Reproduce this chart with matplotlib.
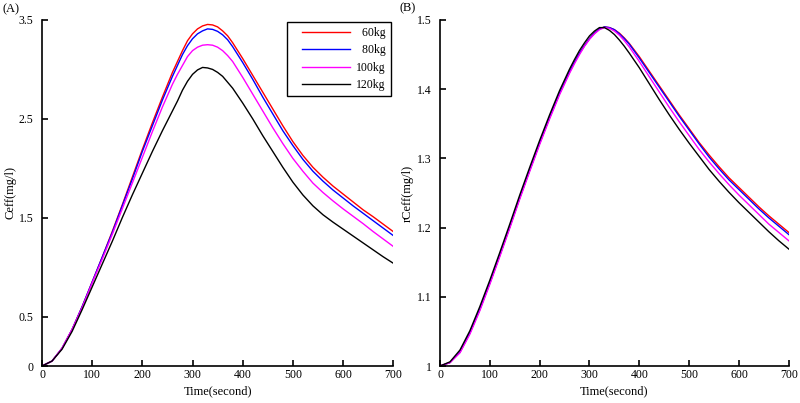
import matplotlib
matplotlib.use("Agg")
import matplotlib.pyplot as plt
from matplotlib.lines import Line2D
from matplotlib.legend_handler import HandlerLine2D

plt.rcParams['font.family'] = ['Liberation Serif', 'DejaVu Serif']
plt.rcParams['font.size'] = 8.5

# time axis (s), denser around the peak
time = [0, 20, 40, 60, 80, 100, 120, 140, 160, 180, 200, 220, 240, 260, 270, 280, 290,
        300, 310, 320, 330, 340, 350, 360, 370, 380, 400, 420, 440, 460, 480, 500, 520,
        540, 560, 580, 600, 620, 640, 660, 680, 700]

weights = ['60kg', '80kg', '100kg', '120kg']
colors = ['#ff0000', '#0000ff', '#ff00ff', '#000000']

# (A) Ceff (mg/l)
ceff_60 = [0, 0.05, 0.18, 0.37, 0.60, 0.85, 1.10, 1.36, 1.63, 1.91, 2.19, 2.46, 2.72, 2.97,
           3.08, 3.19, 3.29, 3.36, 3.41, 3.44, 3.455, 3.45, 3.43, 3.39, 3.34, 3.27, 3.11,
           2.94, 2.77, 2.60, 2.43, 2.27, 2.13, 2.01, 1.91, 1.82, 1.74, 1.66, 1.58, 1.51,
           1.435, 1.36]
ceff_80 = [0, 0.05, 0.18, 0.37, 0.60, 0.85, 1.10, 1.35, 1.62, 1.89, 2.17, 2.43, 2.69, 2.93,
           3.04, 3.15, 3.24, 3.31, 3.36, 3.39, 3.41, 3.405, 3.385, 3.35, 3.30, 3.23, 3.07,
           2.90, 2.72, 2.55, 2.38, 2.23, 2.09, 1.97, 1.87, 1.78, 1.70, 1.62, 1.545, 1.47,
           1.395, 1.32]
ceff_100 = [0, 0.05, 0.18, 0.37, 0.59, 0.84, 1.08, 1.33, 1.59, 1.85, 2.11, 2.37, 2.62, 2.85,
            2.95, 3.04, 3.13, 3.19, 3.225, 3.245, 3.25, 3.245, 3.225, 3.19, 3.14, 3.08, 2.92,
            2.75, 2.58, 2.41, 2.25, 2.10, 1.97, 1.85, 1.755, 1.67, 1.59, 1.515, 1.44, 1.36,
            1.285, 1.21]
ceff_120 = [0, 0.05, 0.17, 0.35, 0.57, 0.80, 1.03, 1.26, 1.50, 1.73, 1.95, 2.17, 2.38, 2.58,
            2.68, 2.79, 2.88, 2.95, 2.995, 3.02, 3.015, 3.00, 2.97, 2.93, 2.87, 2.81, 2.66,
            2.50, 2.33, 2.17, 2.01, 1.86, 1.73, 1.62, 1.53, 1.455, 1.385, 1.315, 1.245, 1.175,
            1.105, 1.04]

# (B) rCeff (mg/l)
rceff_60 = [1.000, 1.005, 1.020, 1.048, 1.082, 1.120, 1.160, 1.201, 1.243, 1.283, 1.322,
            1.359, 1.394, 1.425, 1.439, 1.452, 1.463, 1.473, 1.481, 1.487, 1.490, 1.489,
            1.486, 1.481, 1.474, 1.466, 1.447, 1.426, 1.405, 1.384, 1.363, 1.343, 1.323,
            1.305, 1.288, 1.272, 1.258, 1.244, 1.230, 1.217, 1.205, 1.193]
rceff_80 = [1.000, 1.005, 1.020, 1.048, 1.082, 1.120, 1.160, 1.201, 1.243, 1.283, 1.322,
            1.359, 1.394, 1.425, 1.439, 1.452, 1.463, 1.473, 1.481, 1.487, 1.490, 1.489,
            1.486, 1.480, 1.473, 1.465, 1.445, 1.424, 1.403, 1.382, 1.361, 1.341, 1.321,
            1.302, 1.285, 1.269, 1.255, 1.241, 1.227, 1.214, 1.202, 1.190]
rceff_100 = [1.000, 1.005, 1.019, 1.046, 1.080, 1.118, 1.158, 1.199, 1.241, 1.281, 1.320,
             1.357, 1.392, 1.423, 1.437, 1.450, 1.462, 1.472, 1.480, 1.486, 1.489, 1.488,
             1.484, 1.478, 1.470, 1.461, 1.440, 1.418, 1.396, 1.374, 1.353, 1.333, 1.313,
             1.295, 1.278, 1.262, 1.247, 1.233, 1.219, 1.205, 1.193, 1.181]
rceff_120 = [1.000, 1.006, 1.023, 1.051, 1.086, 1.124, 1.164, 1.205, 1.247, 1.287, 1.326,
             1.363, 1.398, 1.429, 1.443, 1.456, 1.467, 1.477, 1.484, 1.489, 1.489, 1.485,
             1.479, 1.471, 1.462, 1.452, 1.431, 1.408, 1.385, 1.363, 1.342, 1.322, 1.303,
             1.284, 1.267, 1.251, 1.236, 1.222, 1.208, 1.194, 1.181, 1.169]

x_ticks = [0, 100, 200, 300, 400, 500, 600, 700]
a_ticks = [0, 0.5, 1.5, 2.5, 3.5]
a_labels = ['0', '0.5', '1.5', '2.5', '3.5']
b_ticks = [1, 1.1, 1.2, 1.3, 1.4, 1.5]
b_labels = ['1', '1.1', '1.2', '1.3', '1.4', '1.5']

fig = plt.figure(figsize=(8, 4.03), dpi=100)
ax1 = fig.add_axes([0.0525, 0.0918, 0.439, 0.8586])
ax2 = fig.add_axes([0.55, 0.0918, 0.436, 0.8586])


def style(ax):
    for s in ['top', 'right']:
        ax.spines[s].set_visible(False)
    for s in ['left', 'bottom']:
        ax.spines[s].set_linewidth(1.2)
    ax.tick_params(direction='in', length=4, width=1.2, labelsize=8.5)
    ax.tick_params(axis='x', pad=2)
    ax.tick_params(axis='y', pad=6)
    ax.set_xlim(0, 700)
    ax.set_xticks(x_ticks)
    ax.set_xlabel('Time(second)', fontsize=9, labelpad=3)


for ys, c, w in zip([ceff_60, ceff_80, ceff_100, ceff_120], colors, weights):
    ax1.plot(time, ys, color=c, lw=1.0, label='  ' + w if len(w) == 4 else w)
style(ax1)
ax1.set_ylim(0, 3.5)
ax1.set_yticks(a_ticks)
ax1.set_yticklabels(a_labels)
ax1.set_ylabel('Ceff(mg/l)', fontsize=9, labelpad=2)
leg = ax1.legend(loc='upper right', fontsize=8.5, frameon=True, fancybox=False,
                 edgecolor='black', framealpha=1, borderaxespad=0.2, borderpad=0.4,
                 handlelength=5.0, handletextpad=0.5, labelspacing=0.45,
                 handler_map={Line2D: HandlerLine2D(xpad=0.9)})
leg.get_frame().set_linewidth(1.0)

for ys, c in zip([rceff_60, rceff_80, rceff_100, rceff_120], colors):
    ax2.plot(time, ys, color=c, lw=1.0)
style(ax2)
ax2.set_ylim(1, 1.5)
ax2.set_yticks(b_ticks)
ax2.set_yticklabels(b_labels)
ax2.set_ylabel('rCeff(mg/l)', fontsize=9, labelpad=2)

fig.text(0.003, 0.993, '(A)', fontsize=9, va='top', ha='left')
fig.text(0.499, 0.995, '(B)', fontsize=9, va='top', ha='left')

fig.savefig('out.png', dpi=100)
